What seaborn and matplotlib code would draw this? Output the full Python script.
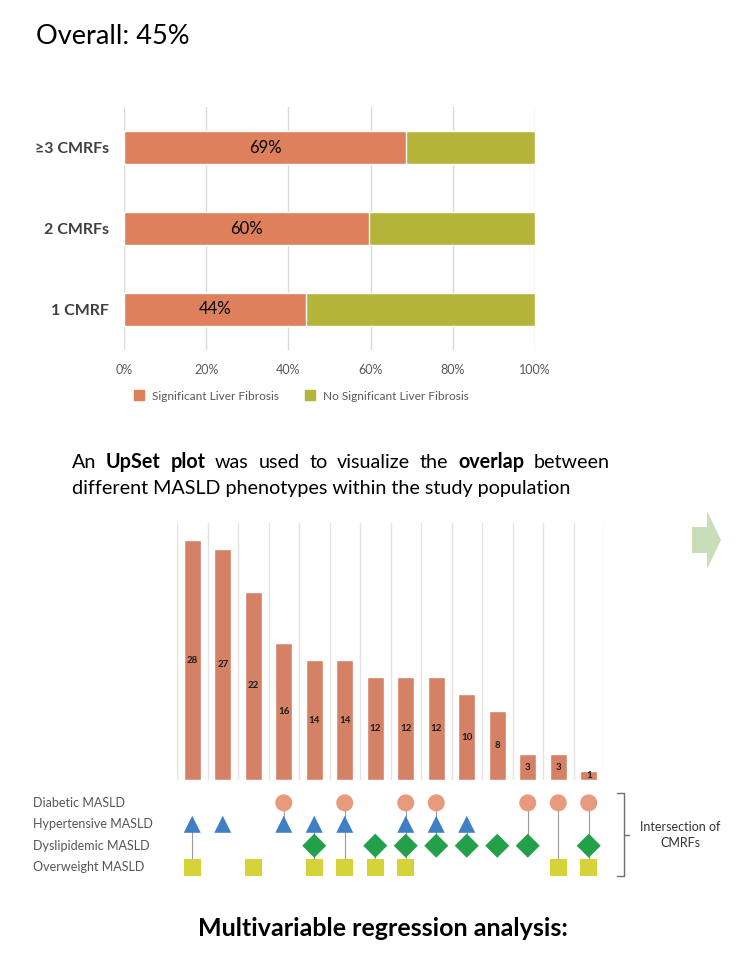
import numpy as np
import pandas as pd
import matplotlib
matplotlib.use("Agg")
import matplotlib.pyplot as plt
import matplotlib.transforms as mtransforms
from matplotlib.patches import Polygon
from matplotlib.lines import Line2D
import seaborn as sns

# ============================================================
# DATA
# ============================================================

GROUPS = ["\u22653 CMRFs", "2 CMRFs", "1 CMRF"]
SIG_PCT = [68.6, 59.7, 44.2]
TOTAL_PCT = [100, 100, 100]
X_TICKS = [0, 20, 40, 60, 80, 100]

SETS = ["Diabetic MASLD", "Hypertensive MASLD", "Dyslipidemic MASLD", "Overweight MASLD"]
COUNTS = [28, 27, 22, 16, 14, 14, 12, 12, 12, 10, 8, 3, 3, 1]
# membership per intersection column (D=Diabetic, H=Hypertensive, L=Dyslipidemic, O=Overweight)
MEMBERS = ["HO", "H", "O", "DH", "HLO", "DHO", "LO", "DHLO", "DHL", "HL", "L", "DL", "DO", "DLO"]
SET_CODES = {"D": "Diabetic MASLD", "H": "Hypertensive MASLD",
             "L": "Dyslipidemic MASLD", "O": "Overweight MASLD"}

# ============================================================
# STYLE
# ============================================================

ORANGE = "#DE805C"
OLIVE = "#B4B43A"
BAR_UPSET = "#D58166"
SET_COLORS = {"Diabetic MASLD": "#E89A7C", "Hypertensive MASLD": "#3F7FC4",
              "Dyslipidemic MASLD": "#23A04A", "Overweight MASLD": "#D4D43A"}
SET_MARKERS = {"Diabetic MASLD": "o", "Hypertensive MASLD": "^",
               "Dyslipidemic MASLD": "D", "Overweight MASLD": "s"}

sns.set_theme(style="white")
plt.rcParams["font.family"] = ["Lato", "DejaVu Sans"]

fig = plt.figure(figsize=(7.47, 9.63), dpi=100)

fig.text(36 / 747, 1 - 36 / 963, "Overall: 45%", fontsize=19.5, va="center", ha="left", color="black")

# ============================================================
# STACKED BAR CHART
# ============================================================

ax1 = fig.add_axes([124 / 747, 1 - 350 / 963, 411 / 747, 243 / 963])
df_top = pd.DataFrame({"Group": GROUPS, "Sig": SIG_PCT, "Total": TOTAL_PCT})
sns.barplot(data=df_top, y="Group", x="Total", color=OLIVE, width=0.4, ax=ax1, saturation=1)
sns.barplot(data=df_top, y="Group", x="Sig", color=ORANGE, width=0.4, ax=ax1, saturation=1)
for i, v in enumerate(SIG_PCT):
    ax1.text(v / 2, i, f"{round(v)}%", ha="center", va="center", fontsize=12, color="black")
ax1.set_xlim(0, 100)
ax1.set_ylim(2.5, -0.5)
ax1.set_xticks(X_TICKS)
ax1.set_xticklabels([f"{t}%" for t in X_TICKS], fontsize=9, color="#595959")
ax1.tick_params(axis="y", labelsize=11.5, colors="#404040", length=0, pad=11)
for lbl in ax1.get_yticklabels():
    lbl.set_fontweight("bold")
ax1.tick_params(axis="x", length=0, pad=10)
ax1.set_xlabel("")
ax1.set_ylabel("")
ax1.grid(axis="x", color="#D9D9D9", linewidth=1)
ax1.set_axisbelow(True)
for s in ax1.spines.values():
    s.set_visible(False)

handles = [Line2D([], [], marker="s", linestyle="", color=ORANGE, markersize=7),
           Line2D([], [], marker="s", linestyle="", color=OLIVE, markersize=7)]
fig.legend(handles, ["Significant Liver Fibrosis", "No Significant Liver Fibrosis"],
           loc="center", bbox_to_anchor=(298 / 747, 1 - 396 / 963), ncol=2, frameon=False,
           fontsize=8.6, labelcolor="#595959", handletextpad=0.05, columnspacing=1.6)

# ============================================================
# JUSTIFIED PARAGRAPH
# ============================================================

renderer = fig.canvas.get_renderer()
PARA_SIZE = 14.2


def justified_line(words, x0, x1, y, size=PARA_SIZE):
    texts = []
    for w, bold in words:
        t = fig.text(0, 1 - y / 963, w, fontsize=size, va="center", ha="left",
                     fontweight="bold" if bold else "normal", color="black")
        texts.append(t)
    widths = [t.get_window_extent(renderer).width for t in texts]
    gap = ((x1 - x0) - sum(widths)) / max(len(texts) - 1, 1)
    x = x0
    for t, w in zip(texts, widths):
        t.set_x(x / 747)
        x += w + gap


def plain(s):
    return [(w, False) for w in s.split()]


line1 = [("An", False), ("UpSet", True), ("plot", True)] + plain("was used to visualize the") + \
        [("overlap", True), ("between", False)]
justified_line(line1, 72, 610, 462)
fig.text(72 / 747, 1 - 488 / 963, "different MASLD phenotypes within the study population",
         fontsize=PARA_SIZE, va="center", ha="left", color="black")

# ============================================================
# UPSET PLOT
# ============================================================

cols = np.arange(len(COUNTS))
ax2 = fig.add_axes([177 / 747, 1 - 780 / 963, 427 / 747, 257 / 963])
df_bar = pd.DataFrame({"col": cols, "count": COUNTS})
sns.barplot(data=df_bar, x="col", y="count", color=BAR_UPSET, width=0.56, ax=ax2,
            saturation=1, native_scale=True)
for c, v in zip(cols, COUNTS):
    ax2.text(c, v / 2, str(v), ha="center", va="center", fontsize=7, color="#1a1a1a",
             fontweight="bold")
ax2.set_xlim(-0.5, len(COUNTS) - 0.5)
ax2.set_ylim(0, 30)
ax2.set_xticks(np.arange(-0.5, len(COUNTS)), minor=False)
ax2.set_xticklabels([])
ax2.set_yticks([])
ax2.grid(axis="x", color="#E3E3E3", linewidth=1)
ax2.set_axisbelow(True)
ax2.tick_params(length=0)
ax2.set_xlabel("")
ax2.set_ylabel("")
for s in ax2.spines.values():
    s.set_visible(False)

rows = []
for c, m in zip(cols, MEMBERS):
    for code in m:
        rows.append({"col": c, "set": SET_CODES[code], "row": SETS.index(SET_CODES[code])})
df_dots = pd.DataFrame(rows)

ax3 = fig.add_axes([177 / 747, 1 - 880 / 963, 427 / 747, 90 / 963])
span = df_dots.groupby("col")["row"].agg(["min", "max"]).reset_index()
ax3.vlines(span["col"], span["min"], span["max"], color="#9A9A9A", linewidth=0.8, zorder=1)
sns.scatterplot(data=df_dots, x="col", y="row", hue="set", style="set",
                palette=SET_COLORS, markers=SET_MARKERS, s=150, linewidth=0,
                ax=ax3, legend=False, zorder=2)
ax3.set_xlim(-0.5, len(COUNTS) - 0.5)
ax3.set_ylim(3.6, -0.6)
ax3.set_xticks([])
ax3.set_yticks([])
ax3.set_xlabel("")
ax3.set_ylabel("")
for s in ax3.spines.values():
    s.set_visible(False)

trans = mtransforms.blended_transform_factory(fig.transFigure, ax3.transData)
for i, name in enumerate(SETS):
    ax3.text(33 / 747, i, name, transform=trans, ha="left", va="center",
             fontsize=9, color="#555555")

# bracket and annotation
bx = 617 / 747
by0, by1 = 1 - 793 / 963, 1 - 876 / 963
fig.add_artist(Line2D([bx, bx + 7 / 747, bx + 7 / 747, bx], [by0, by0, by1, by1],
                      color="#707070", linewidth=1))
ym = (by0 + by1) / 2
fig.add_artist(Line2D([bx + 7 / 747, bx + 12 / 747], [ym, ym], color="#707070", linewidth=1))
fig.text(680 / 747, ym, "Intersection of\nCMRFs", ha="center", va="center",
         fontsize=9, color="#333333", linespacing=1.4)

# decorative arrow
arrow = Polygon([(692 / 747, 1 - 527 / 963), (707 / 747, 1 - 527 / 963), (707 / 747, 1 - 511 / 963),
                 (721 / 747, 1 - 540 / 963), (707 / 747, 1 - 569 / 963), (707 / 747, 1 - 553 / 963),
                 (692 / 747, 1 - 553 / 963)],
                closed=True, transform=fig.transFigure, facecolor="#C9DDB9", edgecolor="none")
fig.add_artist(arrow)

fig.text(383 / 747, 1 - 928 / 963, "Multivariable regression analysis:", ha="center", va="center",
         fontsize=18, fontweight="bold", color="black")

fig.savefig("out.png", dpi=100)
